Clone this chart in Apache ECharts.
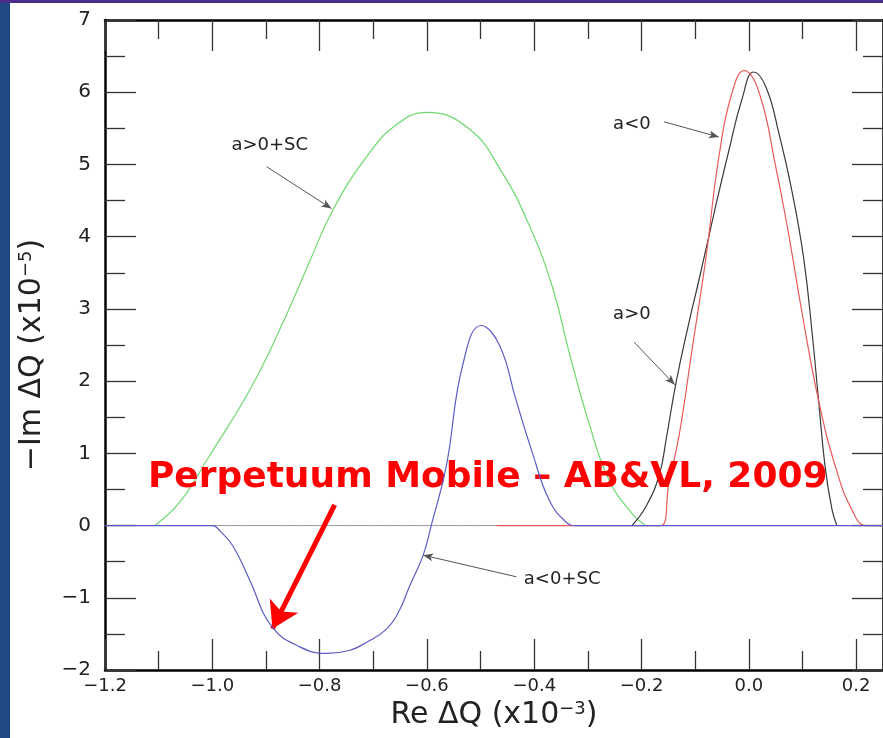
<!DOCTYPE html>
<html>
<head>
<meta charset="utf-8">
<script src="https://cdn.jsdelivr.net/npm/echarts@6/dist/echarts.min.js"></script>
<style>
  html, body { margin: 0; padding: 0; background: #fff; }
  #wrap { position: relative; width: 883px; height: 738px; overflow: hidden; background: #fff; }
  #chart { position: absolute; left: 0; top: 0; width: 883px; height: 738px; }
  .band-l { position: absolute; left: 0; top: 0; width: 10px; height: 738px; background: #1f4a86; }
  .band-t { position: absolute; left: 0; top: 0; width: 883px; height: 3px; background: #4b2c8a; }
</style>
</head>
<body>
<div id="wrap"><div id="chart"></div><div class="band-l"></div><div class="band-t"></div></div>
<script>
/* Re/Im tune-shift curves: [Re dQ (x1e-3), -Im dQ (x1e-5)] */
var greenSC = [  // a>0+SC
  [-1.107, 0], [-1.06, 0.33], [-1.005, 0.97], [-0.93, 1.88], [-0.869, 2.8], [-0.819, 3.65],
  [-0.776, 4.36], [-0.713, 5.1], [-0.657, 5.55], [-0.6, 5.72], [-0.521, 5.49], [-0.46, 4.89],
  [-0.409, 4.15], [-0.366, 3.3], [-0.335, 2.4], [-0.298, 1.42], [-0.26, 0.62], [-0.218, 0.17], [-0.193, 0]
];
var blueSC = [   // a<0+SC
  [-1.2, 0], [-1.0, 0], [-0.985, -0.08], [-0.961, -0.29], [-0.93, -0.76], [-0.889, -1.4],
  [-0.837, -1.68], [-0.787, -1.77], [-0.745, -1.73], [-0.713, -1.62], [-0.675, -1.43], [-0.651, -1.17],
  [-0.633, -0.85], [-0.607, -0.41], [-0.592, 0], [-0.564, 0.82], [-0.534, 2.2], [-0.499, 2.77],
  [-0.465, 2.5], [-0.434, 1.74], [-0.404, 1.02], [-0.372, 0.35], [-0.341, 0.05], [-0.322, 0], [0.25, 0]
];
var blackA = [   // a>0
  [-0.218, 0], [-0.192, 0.26], [-0.167, 0.7], [-0.154, 1.2], [-0.136, 1.97], [-0.112, 2.8],
  [-0.093, 3.4], [-0.061, 4.45], [-0.037, 5.2], [-0.013, 5.9], [0.009, 6.28], [0.032, 6.07],
  [0.056, 5.43], [0.08, 4.64], [0.102, 3.71], [0.118, 2.66], [0.13, 1.73], [0.142, 0.82],
  [0.155, 0.22], [0.164, 0]
];
var redA = [     // a<0
  [-0.47, 0], [-0.164, 0], [-0.149, 0.59], [-0.13, 1.25], [-0.106, 2.43], [-0.08, 3.71],
  [-0.056, 5.1], [-0.031, 6.0], [-0.009, 6.3], [0.019, 6.0], [0.05, 4.97], [0.074, 4.04],
  [0.099, 2.95], [0.13, 1.73], [0.162, 0.8], [0.192, 0.22], [0.218, 0], [0.25, 0]
];
var zeroLine = [[-1.2, 0], [0.25, 0]];

var xRange = [-1.2, 0.25], xStep = 0.2;
var yRange = [-2, 7], yStep = 1;

// annotation labels and their thin arrows (data coords)
var noteText = ['a>0+SC', 'a<0', 'a>0', 'a<0+SC'];
var notePos = [[-0.893, 5.26], [-0.218, 5.56], [-0.218, 2.92], [-0.348, -0.75]];
var noteArrows = [
  [[-0.899, 4.97], [-0.778, 4.39]],
  [[-0.158, 5.59], [-0.056, 5.38]],
  [[-0.214, 2.54], [-0.138, 1.95]],
  [[-0.433, -0.71], [-0.607, -0.41]]
];
var stampText = 'Perpetuum Mobile \u2013 AB&VL, 2009';
var stampPos = [-1.12, 0.67];
var stampArrow = [[-0.772, 0.285], [-0.888, -1.43]];

var FONT = 'DejaVu Sans';
var INK = '#222';
function minus(s) { return s.replace('-', '\u2212'); }

var chart = echarts.init(document.getElementById('chart'));

function frameX(pos, extra) {
  var a = {
    type: 'value', position: pos, min: xRange[0], max: xRange[1], interval: xStep,
    axisLine: { onZero: false, lineStyle: { color: '#000', width: 2.5 } },
    axisTick: { inside: true, length: 31, lineStyle: { color: '#333', width: 1.3 } },
    minorTick: { show: true, splitNumber: 2, length: 19, lineStyle: { color: '#333', width: 1.3 } },
    splitLine: { show: false },
    axisLabel: { show: false }
  };
  return Object.assign(a, extra || {});
}
function frameY(pos, extra) {
  var a = {
    type: 'value', position: pos, min: yRange[0], max: yRange[1], interval: yStep,
    axisLine: { onZero: false, lineStyle: { color: '#000', width: 2.5 } },
    axisTick: { inside: true, length: 31, lineStyle: { color: '#333', width: 1.3 } },
    minorTick: { show: true, splitNumber: 2, length: 20, lineStyle: { color: '#333', width: 1.3 } },
    splitLine: { show: false },
    axisLabel: { show: false }
  };
  return Object.assign(a, extra || {});
}

var titleRich = {
  n: { fontFamily: FONT, fontSize: 30, color: INK },
  s: { fontFamily: FONT, fontSize: 18, color: INK, verticalAlign: 'top' }
};

function curve(name, data, color, z) {
  return {
    name: name, type: 'line', data: data, showSymbol: false, smooth: 0.45, z: z,
    lineStyle: { color: color, width: 1.2 }, animation: false, silent: true
  };
}

var marks = curve('zero', zeroLine, '#9a9a9a', 1);
marks.lineStyle.width = 1;
marks.markPoint = {
  silent: true, animation: false,
  data: noteText.map(function (t, i) {
    return { name: t, coord: notePos[i], symbolSize: 0,
      label: { show: true, position: 'inside', formatter: '{b}', fontFamily: FONT, fontSize: 18, color: INK } };
  }).concat([{ name: stampText, coord: stampPos, symbolSize: 0,
      label: { show: true, position: 'right', distance: 0, formatter: '{b}', fontFamily: FONT,
               fontWeight: 'bold', fontSize: 36, color: '#ff0000' } }])
};
marks.markLine = {
  silent: true, animation: false, label: { show: false }, emphasis: { disabled: true },
  data: noteArrows.map(function (a) {
    return [{ coord: a[0], symbol: 'none', lineStyle: { color: '#555', width: 1, type: 'solid' } },
            { coord: a[1], symbol: 'arrow', symbolSize: [6, 10] }];
  }).concat([[
    { coord: stampArrow[0], symbol: 'none', lineStyle: { color: '#ff0000', width: 5, type: 'solid' } },
    { coord: stampArrow[1], symbol: 'arrow', symbolSize: [24, 26] }
  ]])
};

chart.setOption({
  backgroundColor: '#fff',
  animation: false,
  grid: { left: 105, top: 20, right: -1, bottom: 68, containLabel: false },
  xAxis: [
    frameX('bottom', {
      axisLabel: { show: true, showMaxLabel: false, margin: 7, fontFamily: FONT, fontSize: 18, color: INK,
        formatter: function (v) { return minus(v.toFixed(1)); } },
      name: '{n|Re \u0394Q (x10}{s|\u22123}{n|)}', nameLocation: 'middle', nameGap: 30,
      nameTextStyle: { rich: titleRich }
    }),
    frameX('top')
  ],
  yAxis: [
    frameY('left', {
      axisLabel: { show: true, margin: 14, fontFamily: FONT, fontSize: 20, color: INK,
        formatter: function (v) { return minus(String(Math.round(v))); } },
      name: '{n|\u2212Im \u0394Q (x10}{s|\u22125}{n|)}', nameLocation: 'middle', nameGap: 58, nameRotate: 90,
      nameTextStyle: { rich: titleRich, padding: [0, 20, 0, 0] }
    }),
    frameY('right')
  ],
  series: [
    marks,
    curve('a>0+SC', greenSC, '#6fd96f', 2),
    curve('a>0', blackA, '#3a3a3a', 3),
    curve('a<0', redA, '#e85a5a', 4),
    curve('a<0+SC', blueSC, '#5c5cc4', 5)
  ]
});
</script>
</body>
</html>
